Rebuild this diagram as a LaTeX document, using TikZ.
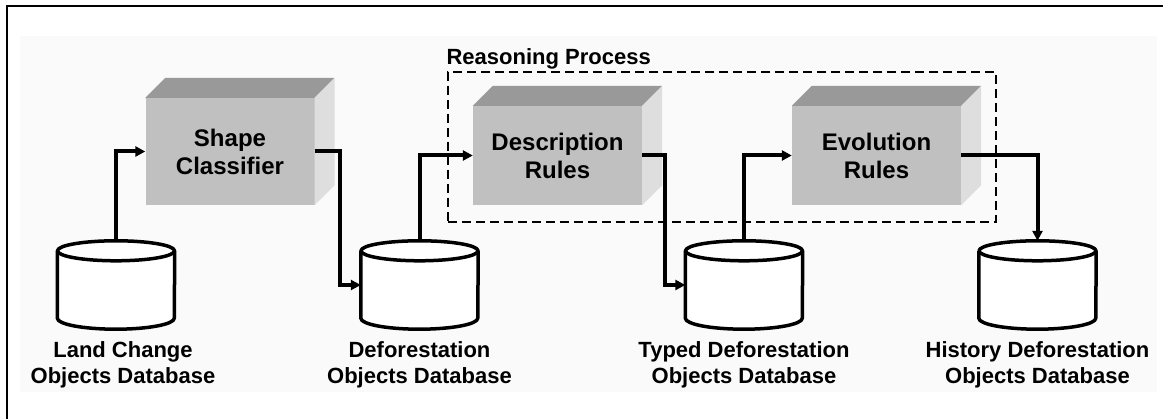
\documentclass[tikz,border=0pt]{standalone}
\usepackage{fontspec}
\setmainfont{Liberation Sans}
\usetikzlibrary{arrows.meta}

\definecolor{frontgray}{RGB}{192,192,192}
\definecolor{topgray}{RGB}{153,153,153}
\definecolor{sidegray}{RGB}{222,222,222}
\definecolor{paneltint}{RGB}{250,250,250}

\tikzset{
  procbox/.style={fill=frontgray, draw=none, inner sep=0pt, align=center,
    minimum width=169pt, minimum height=99pt,
    font=\fontsize{24}{28}\selectfont\bfseries},
  dbspot/.style={draw=none, inner sep=0pt, minimum width=117pt, minimum height=88pt},
  dbline/.style={line width=3.5pt, draw=black, fill=white, line join=round},
  dblabel/.style={anchor=north, inner sep=0pt, align=center,
    font=\fontsize{22}{26}\selectfont\bfseries},
  conn/.style={line width=4pt, line join=miter,
    -{Triangle[length=10pt,width=10pt]}},
  groupbox/.style={draw=black, line width=1.2pt, dash pattern=on 9pt off 5pt,
    inner sep=0pt, minimum width=548pt, minimum height=150pt},
  outerframe/.style={line width=2.5pt, draw=black}
}

% raised top and side faces of a process block
\newcommand\blockdepth[1]{%
  \fill[topgray] (#1.north west) -- ++(20pt,20pt)
    -- ([shift={(20pt,20pt)}]#1.north east) -- (#1.north east) -- cycle;
  \fill[sidegray] (#1.north east) -- ++(20pt,20pt)
    -- ([shift={(20pt,20pt)}]#1.south east) -- (#1.south east) -- cycle;
}

% database cylinder drawn on a placeholder node
\newcommand\dbcylinder[1]{%
  \draw[dbline] ([yshift=-10pt]#1.north west) -- ([yshift=11pt]#1.south west)
    arc[start angle=180, end angle=360, x radius=58.5pt, y radius=11pt]
    -- ([yshift=-10pt]#1.north east);
  \draw[dbline] ([yshift=-10pt]#1.north) ellipse[x radius=58.5pt, y radius=10pt];
}

\begin{document}
\begin{tikzpicture}[x=1pt, y=-1pt]
  \useasboundingbox (0,0) rectangle (1163,419);

  % faint panel and outer frame
  \fill[paneltint] (20,36) rectangle (1157,392);
  \draw[outerframe] (7,421) -- (7,6) -- (1165,6);

  % process blocks
  \node[procbox, minimum height=107pt] (sc) at (230,151.5) {Shape\\Classifier};
  \node[procbox] (dr) at (557.5,155.5) {Description\\Rules};
  \node[procbox] (er) at (876.5,155.5) {Evolution\\Rules};
  \blockdepth{sc}
  \blockdepth{dr}
  \blockdepth{er}

  % reasoning group
  \node[groupbox] (rp) at (722,147) {};
  \node[anchor=base west, inner sep=0pt, font=\fontsize{22}{26}\selectfont\bfseries]
    (rplabel) at ([shift={(-1pt,7pt)}]rp.north west) {Reasoning Process};

  % databases
  \node[dbspot] (db1) at (116,285) {};
  \node[dbspot] (db2) at (419.5,285) {};
  \node[dbspot] (db3) at (744,285) {};
  \node[dbspot] (db4) at (1037.5,285) {};
  \dbcylinder{db1}
  \dbcylinder{db2}
  \dbcylinder{db3}
  \dbcylinder{db4}

  \node[dblabel] (l1) at ([xshift=7pt,yshift=-12pt]db1.south) {Land Change\\Objects Database};
  \node[dblabel] (l2) at ([yshift=-12pt]db2.south) {Deforestation\\Objects Database};
  \node[dblabel] (l3) at ([yshift=-12pt]db3.south) {Typed Deforestation\\Objects Database};
  \node[dblabel] (l4) at ([yshift=-12pt]db4.south) {History Deforestation\\Objects Database};

  % data flow
  \draw[conn] (db1.north) |- (sc.west);
  \draw[conn] (sc.east) -- ++(25,0) |- (db2.west);
  \draw[conn] (db2.north) |- (dr.west);
  \draw[conn] (dr.east) -- ++(23,0) |- (db3.west);
  \draw[conn] (db3.north) |- (er.west);
  \draw[conn] (er.east) -| (db4.north);
\end{tikzpicture}
\end{document}
